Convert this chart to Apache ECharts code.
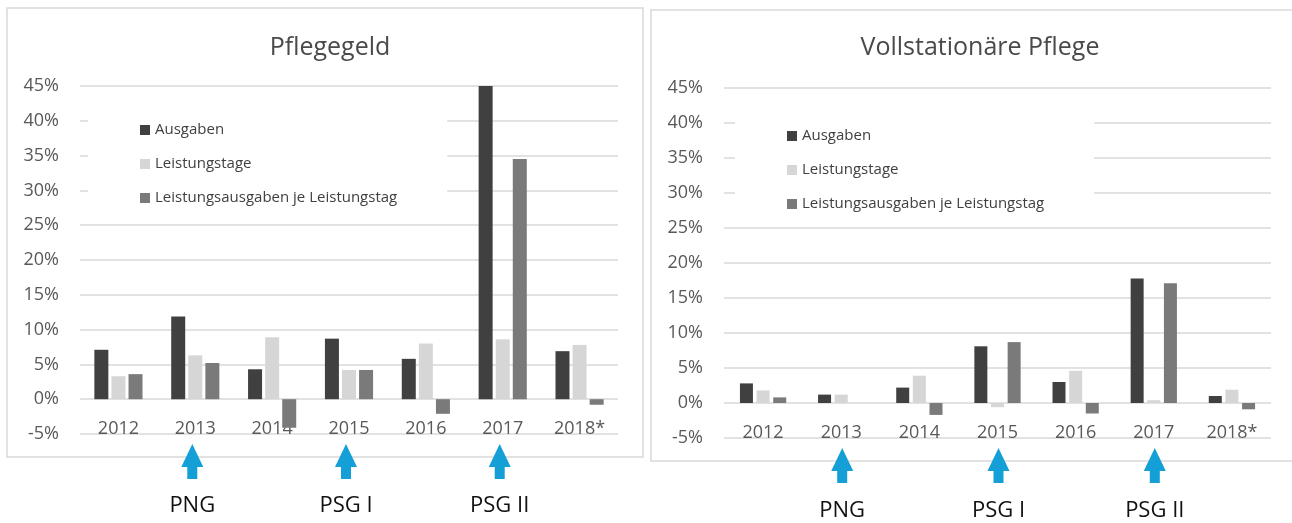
<!DOCTYPE html>
<html>
<head>
<meta charset="utf-8">
<script src="https://cdn.jsdelivr.net/npm/echarts@6/dist/echarts.min.js"></script>
<style>
  html, body { margin: 0; padding: 0; background: #fff; }
  #main { width: 1292px; height: 523px; }
</style>
</head>
<body>
<div id="main"></div>
<script>
const categories = ['2012', '2013', '2014', '2015', '2016', '2017', '2018*'];
const seriesNames = ['Ausgaben', 'Leistungstage', 'Leistungsausgaben je Leistungstag'];

// Pflegegeld, Veränderung zum Vorjahr in %
const pflegeAusgaben = [7.1, 11.9, 4.3, 8.7, 5.8, 45.0, 6.9];
const pflegeTage = [3.3, 6.3, 8.9, 4.2, 8.0, 8.6, 7.8];
const pflegeJeTag = [3.6, 5.2, -4.1, 4.2, -2.1, 34.5, -0.8];

// Vollstationäre Pflege
const stationaerAusgaben = [2.8, 1.2, 2.2, 8.1, 3.0, 17.8, 1.0];
const stationaerTage = [1.8, 1.2, 3.9, -0.6, 4.6, 0.4, 1.9];
const stationaerJeTag = [0.8, 0, -1.7, 8.7, -1.5, 17.1, -0.9];

// Reformen unter den Jahren
const reforms = [
    { year: '2013', label: 'PNG' },
    { year: '2015', label: 'PSG I' },
    { year: '2017', label: 'PSG II' }
];

const colors = ['#404040', '#d6d6d6', '#7a7a7a'];
const font = '"Open Sans", sans-serif';
const gray = '#595959';

const chartDom = document.getElementById('main');
const myChart = echarts.init(chartDom);

function yAxis(gridIndex) {
    return {
        type: 'value',
        gridIndex: gridIndex,
        min: -5,
        max: 45,
        interval: 5,
        axisLine: { show: false },
        axisTick: { show: false },
        axisLabel: {
            formatter: '{value}%',
            color: gray,
            fontFamily: font,
            fontSize: 18,
            margin: 21
        },
        splitLine: { lineStyle: { color: '#d9d9d9', width: 1.5 } }
    };
}

function xAxis(gridIndex) {
    return {
        type: 'category',
        gridIndex: gridIndex,
        data: categories,
        position: 'bottom',
        axisLine: { show: false, onZero: false },
        axisTick: { show: false },
        axisLabel: {
            color: gray,
            fontFamily: font,
            fontSize: 18,
            margin: -14
        }
    };
}

function legend(left, top) {
    return {
        orient: 'vertical',
        left: left,
        top: top,
        data: seriesNames,
        icon: 'rect',
        itemWidth: 10,
        itemHeight: 10,
        itemGap: 18,
        backgroundColor: '#fff',
        padding: [18, 50, 14, 52],
        textStyle: { color: '#404040', fontFamily: font, fontSize: 15, lineHeight: 16 }
    };
}

function bars(gridIndex, values, i, width, gap) {
    return {
        name: seriesNames[i],
        type: 'bar',
        xAxisIndex: gridIndex,
        yAxisIndex: gridIndex,
        data: values,
        barWidth: width,
        barGap: gap,
        itemStyle: { color: colors[i] }
    };
}

const option = {
    animation: false,
    backgroundColor: '#fff',
    title: [
        {
            text: 'Pflegegeld',
            left: 325, top: 30, textAlign: 'center',
            textStyle: { color: '#4a4a4a', fontFamily: font, fontSize: 25, fontWeight: 'normal' }
        },
        {
            text: 'Vollstationäre Pflege',
            left: 975, top: 30, textAlign: 'center',
            textStyle: { color: '#4a4a4a', fontFamily: font, fontSize: 25, fontWeight: 'normal' }
        }
    ],
    legend: [legend(88, 104), legend(735, 110)],
    grid: [
        { left: 80, top: 86, width: 538, height: 348 },
        { left: 724, top: 88, width: 547, height: 350 }
    ],
    xAxis: [xAxis(0), xAxis(1)],
    yAxis: [yAxis(0), yAxis(1)],
    series: [
        bars(0, pflegeAusgaben, 0, 14, '22%'),
        bars(0, pflegeTage, 1, 14, '22%'),
        bars(0, pflegeJeTag, 2, 14, '22%'),
        bars(1, stationaerAusgaben, 0, 13, '28%'),
        bars(1, stationaerTage, 1, 13, '28%'),
        bars(1, stationaerJeTag, 2, 13, '28%')
    ]
};

myChart.setOption(option);

// Rahmen, Pfeile und Reform-Beschriftungen
const graphics = [
    {
        type: 'rect', z: -10, silent: true,
        shape: { x: 7, y: 8, width: 636, height: 449 },
        style: { fill: '#fff', stroke: '#d9d9d9', lineWidth: 1.5 }
    },
    {
        type: 'rect', z: -10, silent: true,
        shape: { x: 651, y: 10, width: 660, height: 451 },
        style: { fill: '#fff', stroke: '#d9d9d9', lineWidth: 1.5 }
    }
];

function arrow(x, tip, label, labelY) {
    graphics.push({
        type: 'polygon', silent: true,
        shape: {
            points: [
                [x, tip], [x + 11, tip + 23], [x + 5, tip + 23], [x + 5, tip + 35],
                [x - 5, tip + 35], [x - 5, tip + 23], [x - 11, tip + 23]
            ]
        },
        style: { fill: '#14a0d6' }
    });
    graphics.push({
        type: 'text', silent: true,
        x: x, y: labelY,
        style: {
            text: label, fill: '#111', fontFamily: font, fontSize: 22,
            align: 'center', verticalAlign: 'middle'
        }
    });
}

reforms.forEach(r => {
    const xl = myChart.convertToPixel({ xAxisIndex: 0 }, r.year);
    arrow(xl - 3, 444, r.label, 506);
    const xr = myChart.convertToPixel({ xAxisIndex: 1 }, r.year);
    arrow(xr + 1, 448, r.label, 511);
});

myChart.setOption({ graphic: graphics });
</script>
</body>
</html>
